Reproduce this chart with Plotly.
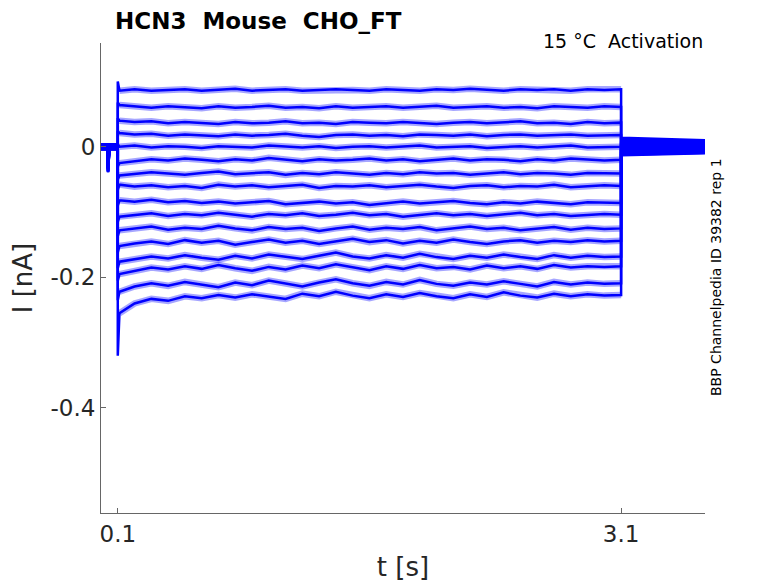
import plotly.graph_objects as go

# time base (s)
hold_t = [0.0, 0.038, 0.042, 0.046, 0.05, 0.1]
step_t = [0.11, 0.2, 0.3, 0.4, 0.5, 0.6, 0.7, 0.8, 0.9, 1.0, 1.1, 1.2, 1.3, 1.4, 1.5, 1.6,
          1.7, 1.8, 1.9, 2.0, 2.1, 2.2, 2.3, 2.4, 2.5, 2.6, 2.7, 2.8, 2.9, 3.0, 3.1]
tail_t = [3.1, 3.6]

# holding segment shape (small artefact before the step) and per-sweep offsets (nA)
hold_shape = [0.0, 0.0, -0.035, -0.015, 0.0, 0.0]
hold_levels = [0.003, -0.002, 0.004, -0.004, 0.001, -0.003, 0.002, -0.001,
               0.004, -0.003, 0.000, 0.002, -0.004, 0.003, -0.002, 0.001]

# capacitive peak right at step onset
onset = [0.100, 0.068, 0.044, 0.024, 0.004, -0.030, -0.050, -0.066,
         -0.090, -0.115, -0.137, -0.162, -0.186, -0.205, -0.235, -0.320]

# current during the step, one list per sweep (nA)
i01 = [0.086, 0.088, 0.086, 0.087, 0.088, 0.086, 0.087, 0.089, 0.086, 0.087, 0.088, 0.086, 0.087, 0.088, 0.087, 0.086,
       0.088, 0.087, 0.086, 0.088, 0.087, 0.089, 0.087, 0.086, 0.088, 0.087, 0.088, 0.086, 0.088, 0.087, 0.088]
i02 = [0.064, 0.062, 0.060, 0.062, 0.061, 0.059, 0.062, 0.060, 0.061, 0.063, 0.060, 0.061, 0.059, 0.062, 0.060, 0.061,
       0.062, 0.060, 0.061, 0.063, 0.060, 0.061, 0.062, 0.060, 0.061, 0.059, 0.062, 0.061, 0.060, 0.062, 0.061]
i03 = [0.040, 0.038, 0.039, 0.036, 0.038, 0.037, 0.035, 0.038, 0.036, 0.037, 0.039, 0.036, 0.037, 0.035, 0.038, 0.037,
       0.036, 0.038, 0.037, 0.035, 0.037, 0.038, 0.036, 0.037, 0.039, 0.036, 0.037, 0.035, 0.038, 0.036, 0.037]
i04 = [0.021, 0.019, 0.020, 0.017, 0.019, 0.018, 0.016, 0.019, 0.017, 0.018, 0.020, 0.017, 0.015, 0.018, 0.019, 0.017,
       0.018, 0.016, 0.019, 0.018, 0.017, 0.019, 0.016, 0.018, 0.019, 0.017, 0.018, 0.019, 0.017, 0.018, 0.018]
i05 = [0.000, 0.002, -0.001, 0.001, 0.000, -0.002, 0.001, 0.000, -0.001, 0.002, 0.000, -0.001, 0.001, -0.002, 0.000, 0.001,
       -0.001, 0.000, 0.002, -0.001, 0.000, 0.001, -0.002, 0.000, 0.001, -0.001, 0.000, 0.002, -0.001, 0.000, 0.000]
i06 = [-0.025, -0.022, -0.019, -0.021, -0.018, -0.020, -0.022, -0.019, -0.021, -0.017, -0.020, -0.022, -0.019, -0.021,
       -0.020, -0.018, -0.021, -0.019, -0.022, -0.020, -0.018, -0.021, -0.019, -0.020, -0.022, -0.019, -0.021, -0.018,
       -0.020, -0.021, -0.020]
i07 = [-0.044, -0.042, -0.039, -0.041, -0.043, -0.040, -0.038, -0.042, -0.041, -0.039, -0.043, -0.040, -0.042, -0.039,
       -0.041, -0.043, -0.040, -0.042, -0.039, -0.041, -0.040, -0.043, -0.041, -0.039, -0.042, -0.040, -0.041, -0.043,
       -0.040, -0.041, -0.041]
i08 = [-0.058, -0.061, -0.059, -0.062, -0.060, -0.063, -0.058, -0.061, -0.059, -0.062, -0.060, -0.058, -0.063, -0.060,
       -0.061, -0.059, -0.062, -0.060, -0.058, -0.061, -0.063, -0.060, -0.059, -0.062, -0.060, -0.061, -0.058, -0.062,
       -0.060, -0.059, -0.060]
i09 = [-0.082, -0.084, -0.081, -0.085, -0.083, -0.086, -0.084, -0.087, -0.085, -0.083, -0.088, -0.086, -0.084, -0.087,
       -0.085, -0.089, -0.086, -0.084, -0.087, -0.085, -0.083, -0.086, -0.088, -0.085, -0.087, -0.084, -0.086, -0.088,
       -0.085, -0.086, -0.086]
i10 = [-0.107, -0.105, -0.102, -0.106, -0.103, -0.105, -0.101, -0.104, -0.107, -0.103, -0.105, -0.102, -0.106, -0.104,
       -0.101, -0.105, -0.103, -0.107, -0.104, -0.102, -0.105, -0.103, -0.106, -0.104, -0.101, -0.105, -0.103, -0.106,
       -0.104, -0.103, -0.104]
i11 = [-0.128, -0.125, -0.122, -0.127, -0.124, -0.126, -0.121, -0.125, -0.128, -0.123, -0.126, -0.124, -0.129, -0.125,
       -0.122, -0.127, -0.124, -0.126, -0.123, -0.128, -0.125, -0.122, -0.126, -0.124, -0.128, -0.125, -0.123, -0.127,
       -0.124, -0.126, -0.125]
i12 = [-0.152, -0.148, -0.145, -0.149, -0.143, -0.147, -0.144, -0.150, -0.146, -0.142, -0.147, -0.144, -0.149, -0.145,
       -0.141, -0.146, -0.143, -0.148, -0.144, -0.147, -0.142, -0.146, -0.149, -0.145, -0.143, -0.147, -0.144, -0.146,
       -0.143, -0.145, -0.144]
i13 = [-0.176, -0.172, -0.168, -0.171, -0.166, -0.170, -0.173, -0.167, -0.171, -0.165, -0.169, -0.172, -0.167, -0.162,
       -0.168, -0.171, -0.166, -0.170, -0.164, -0.169, -0.172, -0.167, -0.170, -0.165, -0.169, -0.172, -0.166, -0.170,
       -0.167, -0.169, -0.168]
i14 = [-0.195, -0.190, -0.185, -0.188, -0.183, -0.187, -0.181, -0.186, -0.190, -0.184, -0.188, -0.182, -0.186, -0.180,
       -0.185, -0.189, -0.183, -0.187, -0.181, -0.186, -0.184, -0.188, -0.182, -0.186, -0.183, -0.187, -0.181, -0.185,
       -0.183, -0.184, -0.183]
i15 = [-0.222, -0.214, -0.209, -0.213, -0.207, -0.211, -0.215, -0.208, -0.212, -0.205, -0.210, -0.214, -0.208, -0.203,
       -0.209, -0.213, -0.207, -0.211, -0.204, -0.210, -0.213, -0.208, -0.211, -0.206, -0.210, -0.214, -0.207, -0.211,
       -0.208, -0.210, -0.209]
i16 = [-0.255, -0.240, -0.233, -0.236, -0.229, -0.232, -0.227, -0.231, -0.226, -0.230, -0.233, -0.225, -0.229, -0.222,
       -0.228, -0.232, -0.226, -0.230, -0.224, -0.229, -0.232, -0.226, -0.230, -0.223, -0.228, -0.231, -0.225, -0.229,
       -0.226, -0.228, -0.227]

# tail after the step (back near holding)
tail_start = [0.014, -0.005, 0.009, -0.012, 0.003, -0.008, 0.011, -0.002,
              0.006, -0.013, 0.001, -0.006, 0.012, -0.010, 0.005, -0.003]
tail_end = [0.010, -0.004, 0.006, -0.009, 0.002, -0.006, 0.008, -0.001,
            0.004, -0.010, 0.001, -0.005, 0.009, -0.007, 0.003, -0.002]

sweeps = [i01, i02, i03, i04, i05, i06, i07, i08, i09, i10, i11, i12, i13, i14, i15, i16]

fig = go.Figure()
for k, sweep in enumerate(sweeps):
    # faint wide halo on the step part only, to imitate the recording noise
    fig.add_trace(go.Scatter(x=step_t, y=sweep, mode="lines",
                             line=dict(color="rgba(0,0,255,0.35)", width=6.5),
                             showlegend=False, hoverinfo="skip"))
    x = hold_t + [0.1] + step_t + tail_t
    y = ([hold_levels[k] + v for v in hold_shape] + [onset[k]] + sweep
         + [tail_start[k], tail_end[k]])
    fig.add_trace(go.Scatter(x=x, y=y, mode="lines",
                             line=dict(color="#0000ff", width=2.5),
                             showlegend=False, hoverinfo="skip"))

axis_col = "#666666"
txt_col = "#262626"

# page body has an 8px margin, so the figure is 8px smaller than the window
fig.update_layout(
    width=770, height=575,
    margin=dict(l=93, r=73, t=35, b=70, autoexpand=False),
    plot_bgcolor="white", paper_bgcolor="white",
    font=dict(family="DejaVu Sans", color=txt_col),
    xaxis=dict(range=[0, 3.6], tickvals=[0.1, 3.1], ticktext=["0.1", "3.1"],
               showline=True, linecolor=axis_col, linewidth=1, mirror=False,
               ticks="inside", ticklen=5, tickcolor=axis_col, automargin=False,
               showgrid=False, zeroline=False, tickfont=dict(size=23),
               title=dict(text="t [s]", font=dict(size=26), standoff=12)),
    yaxis=dict(range=[-0.561, 0.159], tickvals=[0, -0.2, -0.4], ticktext=["0", "-0.2", "-0.4"],
               showline=True, linecolor=axis_col, linewidth=1, mirror=False,
               ticks="inside", ticklen=5, tickcolor=axis_col, automargin=False,
               showgrid=False, zeroline=False, tickfont=dict(size=23),
               title=dict(text="I [nA]", font=dict(size=26), standoff=14)),
)

fig.add_annotation(text="<b>HCN3  Mouse  CHO_FT</b>", xref="paper", yref="paper",
                   x=(113 - 101) / 604, y=(513 - 21) / 470, xanchor="left", yanchor="middle",
                   showarrow=False, font=dict(size=23, color="black"))
fig.add_annotation(text="15 °C  Activation", xref="paper", yref="paper",
                   x=1.0, y=(513 - 41) / 470, xanchor="right", yanchor="middle",
                   showarrow=False, font=dict(size=19, color="black"))
fig.add_annotation(text="BBP Channelpedia ID 39382 rep 1", xref="paper", yref="paper",
                   x=(716 - 101) / 604, y=(513 - 277) / 470, xanchor="center", yanchor="middle",
                   textangle=-90, showarrow=False, font=dict(size=14, color="black"))

fig.write_html("out.html")
